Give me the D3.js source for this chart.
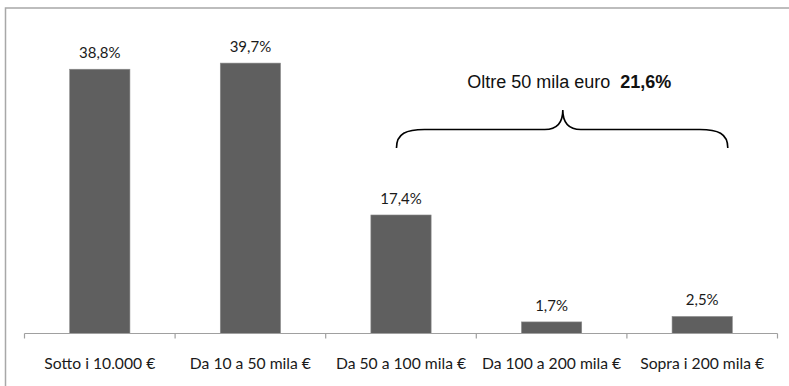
<!DOCTYPE html>
<html>
<head>
<meta charset="utf-8">
<script src="https://cdn.jsdelivr.net/npm/d3@7"></script>
<style>
  html, body { margin: 0; padding: 0; background: #fff; }
  svg { display: block; }
</style>
</head>
<body>
<svg id="chart" width="789" height="386"></svg>
<script>
// Fasce di reddito e quota percentuale
const categories = [
  "Sotto i 10.000 €",
  "Da 10 a 50 mila €",
  "Da 50 a 100 mila €",
  "Da 100 a 200 mila €",
  "Sopra i 200 mila €"
];
const values = [38.8, 39.7, 17.4, 1.7, 2.5];
// Fasce raggruppate nella graffa "Oltre 50 mila euro"
const groupedCategories = ["Da 50 a 100 mila €", "Da 100 a 200 mila €", "Sopra i 200 mila €"];
const groupLabel = "Oltre 50 mila euro";

const fmt = v => d3.format(".1f")(v).replace(".", ",") + "%";

const svg = d3.select("#chart");
const W = 789, H = 386;

// cornice del grafico
svg.append("rect")
  .attr("x", 5.5).attr("y", 8)
  .attr("width", W + 10).attr("height", H + 10)
  .attr("fill", "#fff")
  .attr("stroke", "#a8a8a8")
  .attr("stroke-width", 1.5);

const margin = { left: 24.5, right: 11.5, top: 27, bottom: 52.5 };
const baseY = H - margin.bottom;

const x = d3.scaleBand()
  .domain(categories)
  .range([margin.left, W - margin.right])
  .paddingInner(0.6)
  .paddingOuter(0.3);

// bande complete per l'asse con le tacche tra le categorie
const xAxisBand = d3.scaleBand()
  .domain(categories)
  .range([margin.left, W - margin.right]);

const y = d3.scaleLinear()
  .domain([0, 45])
  .range([baseY, margin.top]);

// barre
svg.append("g")
  .selectAll("rect")
  .data(categories)
  .join("rect")
  .attr("x", d => x(d))
  .attr("width", x.bandwidth())
  .attr("y", (d, i) => y(values[i]))
  .attr("height", (d, i) => baseY - y(values[i]))
  .attr("fill", "#5f5f5f")
  .attr("stroke", "#8a8a8a")
  .attr("stroke-width", 0.6);

// etichette dei valori
svg.append("g")
  .selectAll("text")
  .data(categories)
  .join("text")
  .attr("x", d => x(d) + x.bandwidth() / 2)
  .attr("y", (d, i) => y(values[i]) - 11)
  .attr("text-anchor", "middle")
  .attr("font-family", "Lato, 'Open Sans', sans-serif")
  .attr("font-size", 15)
  .attr("fill", "#1a1a1a")
  .text((d, i) => fmt(values[i]));

// asse delle categorie
const axisG = svg.append("g");
axisG.append("line")
  .attr("x1", margin.left).attr("x2", W - margin.right)
  .attr("y1", baseY).attr("y2", baseY)
  .attr("stroke", "#a0a0a0").attr("stroke-width", 1.2);

const tickPos = categories.map(c => xAxisBand(c)).concat([xAxisBand(categories[categories.length - 1]) + xAxisBand.bandwidth()]);
axisG.selectAll("line.tick")
  .data(tickPos)
  .join("line")
  .attr("class", "tick")
  .attr("x1", d => d).attr("x2", d => d)
  .attr("y1", baseY).attr("y2", baseY + 5)
  .attr("stroke", "#a0a0a0").attr("stroke-width", 1.2);

axisG.selectAll("text")
  .data(categories)
  .join("text")
  .attr("x", d => xAxisBand(d) + xAxisBand.bandwidth() / 2)
  .attr("y", baseY + 35)
  .attr("text-anchor", "middle")
  .attr("font-family", "Lato, 'Open Sans', sans-serif")
  .attr("font-size", 15.7)
  .attr("fill", "#1a1a1a")
  .text(d => d);

// graffa con il totale delle fasce oltre 50 mila euro
const groupTotal = d3.sum(groupedCategories, c => values[categories.indexOf(c)]);
const bw = xAxisBand.bandwidth();
const L = xAxisBand(groupedCategories[0]) + bw * 0.47;
const R = xAxisBand(groupedCategories[groupedCategories.length - 1]) + bw * 0.67;
const tip = L + (R - L) * 0.502;
const yEnd = 148, yMid = 129.5, yTip = 110;

const bracePath = d3.path();
bracePath.moveTo(L, yEnd);
bracePath.bezierCurveTo(L, yMid + 4, L + 10, yMid, L + 28, yMid);
bracePath.lineTo(tip - 18, yMid);
bracePath.bezierCurveTo(tip - 6, yMid, tip, yMid - 6, tip, yTip);
bracePath.bezierCurveTo(tip, yMid - 6, tip + 6, yMid, tip + 18, yMid);
bracePath.lineTo(R - 28, yMid);
bracePath.bezierCurveTo(R - 10, yMid, R, yMid + 4, R, yEnd);

svg.append("path")
  .attr("d", bracePath.toString())
  .attr("fill", "none")
  .attr("stroke", "#000")
  .attr("stroke-width", 1.6);

const ann = svg.append("text")
  .attr("x", tip + 6.5)
  .attr("y", 88)
  .attr("text-anchor", "middle")
  .attr("font-family", "'Liberation Sans', Arial, sans-serif")
  .attr("font-size", 18)
  .attr("fill", "#111")
  .attr("xml:space", "preserve");
ann.append("tspan").text(groupLabel + "  ");
ann.append("tspan").attr("font-weight", "bold").text(fmt(groupTotal));
</script>
</body>
</html>
